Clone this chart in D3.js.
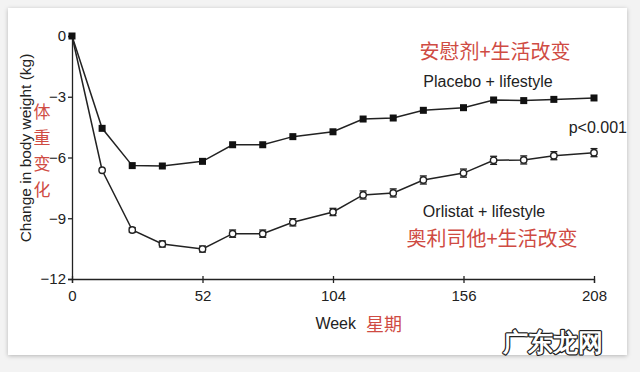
<!DOCTYPE html>
<html>
<head>
<meta charset="utf-8">
<script src="https://cdn.jsdelivr.net/npm/d3@7"></script>
<style>
  body { margin: 0; background: #f3f3f3; }
  svg { display: block; }
  text { font-family: "Liberation Sans", Arial, sans-serif; }
  .cn { font-family: "Noto Sans CJK SC", sans-serif; fill: #cf4b43; }
</style>
</head>
<body>
<div class="graph-pane"></div>
<script>
// weeks of measurement
var weeks = [0, 12, 24, 36, 52, 64, 76, 88, 104, 116, 128, 140, 156, 168, 180, 192, 208];
// mean change in body weight (kg)
var placebo = [0, -4.56, -6.4, -6.42, -6.19, -5.37, -5.37, -4.97, -4.73, -4.1, -4.05, -3.67, -3.54, -3.16, -3.19, -3.13, -3.06];
var orlistat = [0, -6.63, -9.58, -10.27, -10.52, -9.76, -9.76, -9.2, -8.69, -7.85, -7.75, -7.11, -6.77, -6.14, -6.12, -5.91, -5.76];
var orlistatErr = [0, 0, 0.12, 0.15, 0.15, 0.18, 0.18, 0.18, 0.18, 0.2, 0.2, 0.2, 0.2, 0.2, 0.2, 0.2, 0.2];
var xTicks = [0, 52, 104, 156, 208];
var yTicks = [0, -3, -6, -9, -12];
var yTitleCn = ['体', '重', '变', '化'];

var W = 640, H = 372;
var svg = d3.select('.graph-pane').append('svg')
  .attr('width', W).attr('height', H);

// white card
svg.append('rect')
  .attr('x', 8).attr('y', 8).attr('width', 619).attr('height', 347)
  .attr('fill', '#fff')
  .style('filter', 'drop-shadow(0px 1px 2px rgba(0,0,0,0.25))');

var xScale = d3.scaleLinear().domain([0, 208]).range([72, 594]);
var yScale = d3.scaleLinear().domain([0, -12]).range([36, 279]);

var xAxis = d3.axisBottom(xScale).tickValues(xTicks).tickSize(4).tickPadding(7);
var yAxis = d3.axisLeft(yScale).tickValues(yTicks).tickSize(4).tickPadding(2);

var gx = svg.append('g')
  .attr('transform', 'translate(0,' + yScale(-12) + ')')
  .call(xAxis);
var gy = svg.append('g')
  .attr('transform', 'translate(' + xScale(0) + ',0)')
  .call(yAxis);

[gx, gy].forEach(function(g) {
  g.select('.domain').attr('stroke', '#222').attr('stroke-width', 1.3);
  g.selectAll('.tick line').attr('stroke', '#222').attr('stroke-width', 1.3);
  g.selectAll('.tick text').attr('fill', '#222')
    .style('font-family', '"Liberation Sans", Arial, sans-serif')
    .style('font-size', '15px');
});
gx.selectAll('.tick line').attr('y1', -3);

var line = d3.line()
  .x(function(d) { return xScale(d[0]); })
  .y(function(d) { return yScale(d[1]); });

var placeboPts = weeks.map(function(w, i) { return [w, placebo[i]]; });
var orlistatPts = weeks.map(function(w, i) { return [w, orlistat[i], orlistatErr[i]]; });

svg.append('path').datum(placeboPts)
  .attr('d', line).attr('fill', 'none')
  .attr('stroke', '#222').attr('stroke-width', 1.5);
svg.append('path').datum(orlistatPts)
  .attr('d', line).attr('fill', 'none')
  .attr('stroke', '#222').attr('stroke-width', 1.5);

// error bars on orlistat
var eb = svg.append('g');
orlistatPts.forEach(function(d) {
  if (!d[2]) return;
  var x = xScale(d[0]);
  var y1 = yScale(d[1] + d[2]), y2 = yScale(d[1] - d[2]);
  eb.append('line').attr('x1', x).attr('x2', x).attr('y1', y1).attr('y2', y2)
    .attr('stroke', '#222').attr('stroke-width', 1.3);
  [y1, y2].forEach(function(y) {
    eb.append('line').attr('x1', x - 3.5).attr('x2', x + 3.5).attr('y1', y).attr('y2', y)
      .attr('stroke', '#222').attr('stroke-width', 1.3);
  });
});

svg.append('g').selectAll('circle')
  .data(orlistatPts.slice(1))
  .enter().append('circle')
  .attr('cx', function(d) { return xScale(d[0]); })
  .attr('cy', function(d) { return yScale(d[1]); })
  .attr('r', 3.2)
  .attr('fill', '#fff').attr('stroke', '#222').attr('stroke-width', 1.4);

svg.append('g').selectAll('rect')
  .data(placeboPts)
  .enter().append('rect')
  .attr('x', function(d) { return xScale(d[0]) - 3.5; })
  .attr('y', function(d) { return yScale(d[1]) - 3.5; })
  .attr('width', 7).attr('height', 7)
  .attr('fill', '#111');

// axis titles
svg.append('text')
  .attr('transform', 'translate(31,148) rotate(-90)')
  .attr('text-anchor', 'middle')
  .attr('fill', '#222').style('font-size', '15.5px')
  .text('Change in body weight (kg)');

svg.append('g').selectAll('text')
  .data(yTitleCn).enter().append('text')
  .attr('class', 'cn')
  .attr('x', 42).attr('y', function(d, i) { return 118 + i * 26; })
  .attr('text-anchor', 'middle')
  .style('font-size', '17px')
  .text(function(d) { return d; });

svg.append('text')
  .attr('x', 356).attr('y', 329)
  .attr('text-anchor', 'end')
  .attr('fill', '#222').style('font-size', '16px')
  .text('Week');
svg.append('text')
  .attr('class', 'cn')
  .attr('x', 366).attr('y', 331)
  .style('font-size', '18px')
  .text('星期');

// series labels
svg.append('text').attr('class', 'cn')
  .attr('x', 495).attr('y', 59)
  .attr('text-anchor', 'middle').style('font-size', '20px')
  .text('安慰剂+生活改变');
svg.append('text')
  .attr('x', 488).attr('y', 87)
  .attr('text-anchor', 'middle').attr('fill', '#222').style('font-size', '16px')
  .text('Placebo + lifestyle');
svg.append('text')
  .attr('x', 627).attr('y', 133)
  .attr('text-anchor', 'end').attr('fill', '#222').style('font-size', '16px')
  .text('p<0.001');
svg.append('text')
  .attr('x', 484).attr('y', 217)
  .attr('text-anchor', 'middle').attr('fill', '#222').style('font-size', '16px')
  .text('Orlistat + lifestyle');
svg.append('text').attr('class', 'cn')
  .attr('x', 492).attr('y', 246)
  .attr('text-anchor', 'middle').style('font-size', '20px')
  .text('奥利司他+生活改变');

// watermark: black outline underneath, white glyphs on top
var wm = svg.append('g')
  .style('font-family', '"Noto Sans CJK SC", sans-serif')
  .style('font-size', '25px').style('font-weight', '900');
wm.append('text')
  .attr('x', 553).attr('y', 351).attr('text-anchor', 'middle')
  .attr('fill', '#222').attr('stroke', '#222').attr('stroke-width', 2.5)
  .attr('stroke-linejoin', 'round')
  .text('广东龙网');
wm.append('text')
  .attr('x', 553).attr('y', 351).attr('text-anchor', 'middle')
  .attr('fill', '#fff')
  .text('广东龙网');
</script>
</body>
</html>
